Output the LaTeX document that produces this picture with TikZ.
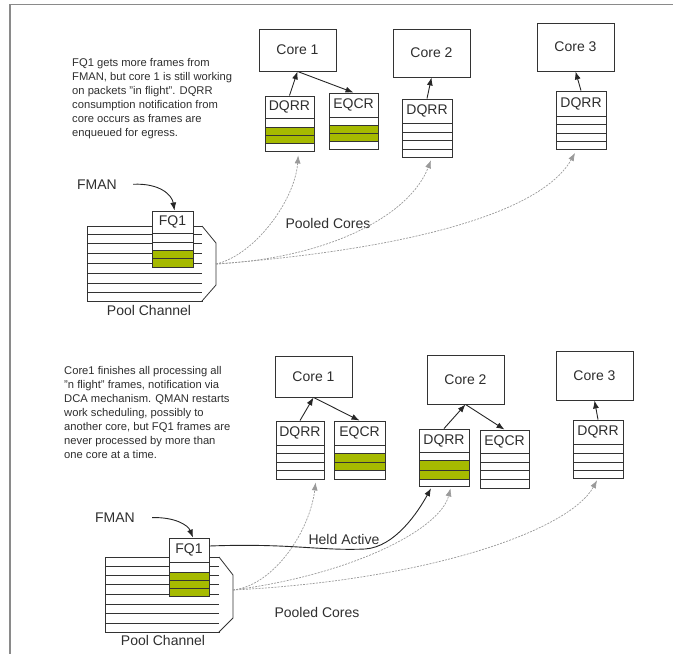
\documentclass[tikz,border=0pt]{standalone}
\usepackage{fontspec}
\setmainfont{Liberation Sans}
\usetikzlibrary{arrows.meta}
\definecolor{lc}{HTML}{333333}
\definecolor{txt}{HTML}{2E2E2E}
\definecolor{grn}{HTML}{A6BA00}
\definecolor{dshc}{HTML}{9A9A9A}
\definecolor{frm}{HTML}{8A8A8A}
\newcommand\labfont{\fontsize{14}{16}\selectfont}
\newcommand\notefont{\fontsize{11.2}{14}\selectfont}
\newcommand\mkbox[6]{%
  \node[boxst, minimum width={(#4-#2)*1pt}, minimum height={(#5-#3)*1pt}] (#1) at ({(#2+#4)/2},{(#3+#5)/2}) {#6};}
\newcommand\mkqueue[8]{%
  \node[qbody, minimum width={(#5-#3)*1pt}, minimum height={(#7-#4)*1pt}] (#1) at ({(#3+#5)/2},{(#4+#7)/2}) {};
  \node[qhead, minimum width={(#5-#3)*1pt}, minimum height={(#6-#4)*1pt}] (#1h) at ({(#3+#5)/2},{(#4+#6)/2}) {#2};
  \foreach \ya/\yb/\cc in {#8} {\filldraw[rowst, fill=\cc] (#3,\ya) rectangle (#5,\yb);}
}
\begin{document}
\begin{tikzpicture}[x=1pt,y=-1pt,
  boxst/.style={draw=lc, line width=0.9pt, fill=white, inner sep=0pt, font=\labfont, text=txt},
  qbody/.style={draw=lc, line width=0.9pt, fill=white, inner sep=0pt},
  qhead/.style={draw=lc, line width=0.9pt, inner sep=0pt, font=\labfont, text=txt},
  rowst/.style={draw=lc, line width=0.8pt},
  arr/.style={draw=black!85, line width=0.9pt, -{Latex[length=8pt,width=6pt]}},
  dshline/.style={draw=dshc, line width=0.7pt, dash pattern=on 2pt off 1.2pt, -{Latex[length=8pt,width=6pt]}},
  lab/.style={font=\labfont, text=txt, inner sep=0pt},
  note/.style={font=\notefont, text=txt, align=left, inner sep=0pt, anchor=north west}
]
\useasboundingbox (0,0) rectangle (673,654);
\draw[frm, line width=1.4pt] (10,654) -- (10,4.5) -- (673,4.5);

% ---------------- top panel ----------------
\node[note] (note1) at (72,58) {FQ1 gets more frames from\\FMAN, but core 1 is still working\\on packets "in flight". DQRR\\consumption notification from\\core occurs as frames are\\enqueued for egress.};

\mkbox{c1}{259}{29}{336}{71}{Core 1}
\mkbox{c2}{393}{29}{470}{77}{Core 2}
\mkbox{c3}{537}{23}{614}{71}{Core 3}

\mkqueue{q1}{DQRR}{265}{96}{314}{118}{151}{118/127/white,127/135/grn,135/143/grn,143/151/white}
\mkqueue{q2}{EQCR}{329}{93}{378}{117}{149}{117/125/white,125/133/grn,133/141/grn,141/149/white}
\mkqueue{q3}{DQRR}{402}{99}{452}{123}{157}{123/132/white,132/140/white,140/149/white,149/157/white}
\mkqueue{q4}{DQRR}{556}{91}{606}{116}{149}{116/124/white,124/133/white,133/141/white,141/149/white}

\draw[arr] (q1.north) -- (c1.south);
\draw[arr] (c1.south) -- (q2.north);
\draw[arr] (q3.north) -- (c2.south);
\draw[arr] (q4.north) -- (c3.south);

\node[qbody, minimum width=115pt, minimum height=75pt] (p1) at (144.5,263.5) {};
\foreach \y in {234,243,253,263,273,283,292} \draw[rowst] (87,\y) -- (202,\y);
\draw[rowst, fill=white] (202,226) -- (216,243) -- (216,285) -- (202,301);
\coordinate (p1out) at (216,264);
\mkqueue{f1}{FQ1}{152}{211}{193}{233}{267}{233/242/white,242/250/white,250/258/grn,258/267/grn}

\node[lab] (fman1) at (97,185) {FMAN};
\draw[arr, shorten <=16pt] (fman1.east) .. controls (160,183) and (172,195) .. ([xshift=2pt]f1.north);
\node[lab] (pc1) at (149,310) {Pool Channel};
\node[lab] (pooled1) at (328,223) {Pooled Cores};

\draw[dshline, shorten >=4pt] (p1out) .. controls (255,255) and (295,200) .. ([xshift=9pt]q1.south);
\draw[dshline, shorten >=3pt] (p1out) .. controls (330,258) and (410,215) .. ([xshift=5pt]q3.south);
\draw[dshline, shorten >=4pt] (p1out) .. controls (400,250) and (540,215) .. ([xshift=-4pt]q4.south);

% ---------------- bottom panel ----------------
\node[note] (note2) at (64,366) {Core1 finishes all processing all\\"n flight" frames, notification via\\DCA mechanism. QMAN restarts\\work scheduling, possibly to\\another core, but FQ1 frames are\\never processed by more than\\one core at a time.};

\mkbox{d1}{275}{356}{352}{397}{Core 1}
\mkbox{d2}{427}{355}{504}{404}{Core 2}
\mkbox{d3}{556}{351}{633}{400}{Core 3}

\mkqueue{q5}{DQRR}{276}{421}{324}{445}{479}{445/453/white,453/462/white,462/470/white,470/479/white}
\mkqueue{q6}{EQCR}{334}{421}{385}{445}{479}{445/453/white,453/462/grn,462/470/grn,470/479/white}
\mkqueue{q7}{DQRR}{419}{429}{469}{452}{486}{452/460/white,460/470/grn,470/479/grn,479/486/white}
\mkqueue{q8}{EQCR}{480}{430}{529}{453}{488}{453/462/white,462/470/white,470/479/white,479/488/white}
\mkqueue{q9}{DQRR}{573}{420}{623}{444}{478}{444/453/white,453/462/white,462/470/white,470/478/white}

\draw[arr] (q5.north) -- (d1.south);
\draw[arr] (d1.south) -- (q6.north);
\draw[arr] (q7.north) -- (d2.south);
\draw[arr] (d2.south) -- (q8.north);
\draw[arr] (q9.north) -- (d3.south);

\node[qbody, minimum width=114pt, minimum height=75pt] (p2) at (162,594.5) {};
\foreach \y in {566,575,584,594,604,613,623} \draw[rowst] (105,\y) -- (219,\y);
\draw[rowst, fill=white] (219,557) -- (233,575) -- (233,618) -- (219,632);
\coordinate (p2out) at (233,590);
\mkqueue{f2}{FQ1}{169}{538}{209}{562}{596}{562/572/white,572/580/grn,580/588/grn,588/596/grn}

\node[lab] (fman2) at (115,518) {FMAN};
\draw[arr, shorten <=17pt] (fman2.east) .. controls (175,517) and (188,525) .. ([xshift=4pt]f2.north);
\node[lab] (pc2) at (163,640) {Pool Channel};
\node[lab] (pooled2) at (317,612) {Pooled Cores};
\node[lab] (held) at (344,539) {Held Active};

\draw[arr, shorten >=2pt] ([yshift=4pt]f2h.east) .. controls (290,543) and (320,551) .. (365,549) .. controls (395,547) and (418,512) .. ([xshift=-12pt]q7.south);

\draw[dshline, shorten >=3pt] (p2out) .. controls (275,585) and (310,530) .. ([xshift=16pt]q5.south);
\draw[dshline, shorten >=2pt] (p2out) .. controls (350,575) and (440,530) .. ([xshift=7pt]q7.south);
\draw[dshline, shorten >=2pt] (p2out) .. controls (430,580) and (570,530) .. (q9.south);
\end{tikzpicture}
\end{document}
